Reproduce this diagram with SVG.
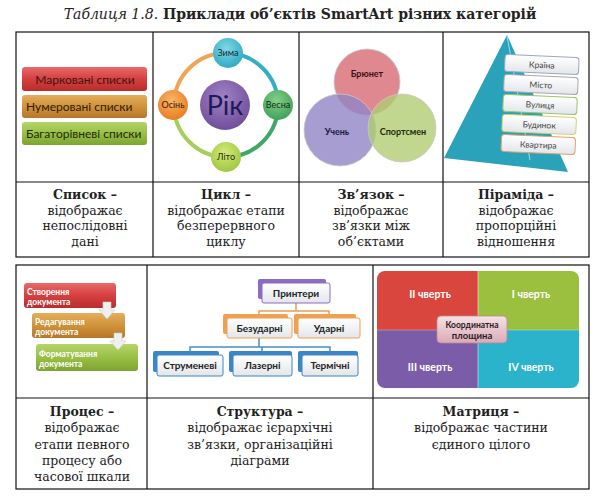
<svg xmlns="http://www.w3.org/2000/svg" width="595" height="497" viewBox="0 0 595 497">
<style>
.cap{font-family:"DejaVu Serif","Liberation Serif",serif;font-size:12.5px;fill:#222;text-anchor:middle}
.b{font-weight:bold}
.tl{fill:none;stroke:#111;stroke-width:1.2}
.sa{font-family:Lato,"Liberation Sans",sans-serif}
</style>
<defs>
<linearGradient id="gRed" x1="0" y1="0" x2="0" y2="1"><stop offset="0" stop-color="#e86a6a"/><stop offset="0.5" stop-color="#d63f3f"/><stop offset="1" stop-color="#b92c2c"/></linearGradient>
<linearGradient id="gOr" x1="0" y1="0" x2="0" y2="1"><stop offset="0" stop-color="#e4ae5c"/><stop offset="0.5" stop-color="#d0923a"/><stop offset="1" stop-color="#b67828"/></linearGradient>
<linearGradient id="gGr" x1="0" y1="0" x2="0" y2="1"><stop offset="0" stop-color="#b6d46a"/><stop offset="0.5" stop-color="#99bf45"/><stop offset="1" stop-color="#7ea432"/></linearGradient>
<linearGradient id="gCard" x1="0" y1="0" x2="0" y2="1"><stop offset="0" stop-color="#ffffff"/><stop offset="1" stop-color="#e3e6ea"/></linearGradient>
<linearGradient id="gPink" x1="0" y1="0" x2="0" y2="1"><stop offset="0" stop-color="#f6e2e6"/><stop offset="1" stop-color="#d9aab5"/></linearGradient>
<radialGradient id="gPurp" cx="0.45" cy="0.35" r="0.7"><stop offset="0" stop-color="#a183c4"/><stop offset="1" stop-color="#6d4a98"/></radialGradient>
<radialGradient id="gCy" cx="0.45" cy="0.35" r="0.7"><stop offset="0" stop-color="#7fd8e6"/><stop offset="1" stop-color="#2aa7c2"/></radialGradient>
<radialGradient id="gGn" cx="0.45" cy="0.35" r="0.7"><stop offset="0" stop-color="#86cf8a"/><stop offset="1" stop-color="#3a9e55"/></radialGradient>
<radialGradient id="gYg" cx="0.45" cy="0.35" r="0.7"><stop offset="0" stop-color="#d4ea7a"/><stop offset="1" stop-color="#9cc43a"/></radialGradient>
<radialGradient id="gOrC" cx="0.45" cy="0.35" r="0.7"><stop offset="0" stop-color="#f8b566"/><stop offset="1" stop-color="#e87a1e"/></radialGradient>
</defs>

<text x="300" y="19" style="font-family:'DejaVu Serif','Liberation Serif',serif;font-size:14px;fill:#222" text-anchor="middle"><tspan font-style="italic">Таблиця 1.8.</tspan><tspan font-weight="bold"> Приклади об’єктів SmartArt різних категорій</tspan></text>

<g id="table-lines">
<rect class="tl" x="16" y="32" width="573" height="225"/>
<line class="tl" x1="16" y1="182" x2="589" y2="182"/>
<line class="tl" x1="153" y1="32" x2="153" y2="257"/>
<line class="tl" x1="299" y1="32" x2="299" y2="257"/>
<line class="tl" x1="443" y1="32" x2="443" y2="257"/>
<rect class="tl" x="16" y="265" width="573" height="224"/>
<line class="tl" x1="16" y1="398" x2="589" y2="398"/>
<line class="tl" x1="147" y1="265" x2="147" y2="489"/>
<line class="tl" x1="373" y1="265" x2="373" y2="489"/>
</g>

<g id="list">
<rect x="22" y="67" width="125" height="24" rx="3" fill="url(#gRed)"/>
<rect x="22" y="95" width="125" height="23" rx="3" fill="url(#gOr)"/>
<rect x="22" y="122" width="125" height="23" rx="3" fill="url(#gGr)"/>
<text class="sa" x="85" y="83.5" font-size="12" fill="#3a1616" text-anchor="middle">Марковані списки</text>
<text class="sa" x="26" y="110.5" font-size="12" fill="#2e1a08">Нумеровані списки</text>
<text class="sa" x="26" y="137.5" font-size="12" fill="#1c2a0a">Багаторівневі списки</text>
</g>

<g id="cycle">
<g fill="none" stroke-width="4">
<path d="M226,53 A52,52 0 0 1 278,105" stroke="#34aec4"/>
<path d="M278,105 A52,52 0 0 1 226,157" stroke="#3ea866"/>
<path d="M226,157 A52,52 0 0 1 174,105" stroke="#a6cf5a"/>
<path d="M174,105 A52,52 0 0 1 226,53" stroke="#f0a456"/>
</g>
<circle cx="225" cy="105" r="25" fill="url(#gPurp)"/>
<text class="sa" x="225" y="115" font-size="27" fill="#1e1a5a" text-anchor="middle">Рік</text>
<circle cx="228" cy="53" r="15" fill="url(#gCy)"/>
<text class="sa" x="228" y="56" font-size="9" fill="#1a2a30" text-anchor="middle">Зима</text>
<circle cx="278" cy="105" r="15" fill="url(#gGn)"/>
<text class="sa" x="278" y="108" font-size="9" fill="#102a14" text-anchor="middle">Весна</text>
<circle cx="226" cy="157" r="15" fill="url(#gYg)"/>
<text class="sa" x="226" y="160" font-size="9" fill="#2a3010" text-anchor="middle">Літо</text>
<circle cx="173" cy="105" r="15" fill="url(#gOrC)"/>
<text class="sa" x="173" y="108" font-size="9" fill="#3a1a06" text-anchor="middle">Осінь</text>
</g>

<g id="venn">
<circle cx="367" cy="82" r="33" fill="#d9737c" fill-opacity="0.85" stroke="#c8c8c8" stroke-width="0.8"/>
<circle cx="340" cy="130" r="36" fill="#9184c6" fill-opacity="0.8" stroke="#c8c8c8" stroke-width="0.8"/>
<circle cx="402" cy="128" r="34" fill="#b2cc72" fill-opacity="0.8" stroke="#c8c8c8" stroke-width="0.8"/>
<text class="sa" x="367" y="77" font-size="9" font-weight="bold" fill="#3a1010" text-anchor="middle">Брюнет</text>
<text class="sa" x="337" y="135" font-size="9" font-weight="bold" fill="#1c1a3a" text-anchor="middle">Учень</text>
<text class="sa" x="403" y="135" font-size="9" font-weight="bold" fill="#1c2a0a" text-anchor="middle">Спортсмен</text>
</g>

<g id="pyramid">
<polygon points="507,35 444,158 568,172" fill="#2aa2ba"/>
<line x1="507" y1="36" x2="530" y2="160" stroke="#9fdbe6" stroke-width="1"/>
<g transform="rotate(2.5 540 105)">
<rect x="503" y="56" width="74" height="17" rx="3" fill="url(#gCard)" stroke="#9aa8c0"/>
<rect x="503" y="76" width="74" height="17" rx="3" fill="url(#gCard)" stroke="#a8a8a8"/>
<rect x="503" y="96" width="74" height="17" rx="3" fill="url(#gCard)" stroke="#9cc46a"/>
<rect x="503" y="116" width="74" height="17" rx="3" fill="url(#gCard)" stroke="#d6d070"/>
<rect x="503" y="136" width="74" height="17" rx="3" fill="url(#gCard)" stroke="#e0a070"/>
<g class="sa" font-size="8.5" fill="#444" text-anchor="middle">
<text x="540" y="68">Країна</text>
<text x="540" y="88">Місто</text>
<text x="540" y="108">Вулиця</text>
<text x="540" y="128">Будинок</text>
<text x="540" y="148">Квартира</text>
</g>
</g>
</g>

<g id="captions-top" class="cap">
<text x="85" y="199"><tspan class="b">Список –</tspan><tspan x="85" dy="15.5">відображає</tspan><tspan x="85" dy="15.5">непослідовні</tspan><tspan x="85" dy="15.5">дані</tspan></text>
<text x="226" y="199"><tspan class="b">Цикл –</tspan><tspan x="226" dy="15.5">відображає етапи</tspan><tspan x="226" dy="15.5">безперервного</tspan><tspan x="226" dy="15.5">циклу</tspan></text>
<text x="371" y="199"><tspan class="b">Зв’язок –</tspan><tspan x="371" dy="15.5">відображає</tspan><tspan x="371" dy="15.5">зв’язки між</tspan><tspan x="371" dy="15.5">об’єктами</tspan></text>
<text x="516" y="199"><tspan class="b">Піраміда –</tspan><tspan x="516" dy="15.5">відображає</tspan><tspan x="516" dy="15.5">пропорційні</tspan><tspan x="516" dy="15.5">відношення</tspan></text>
</g>

<g id="process">
<rect x="24" y="283" width="92" height="25" rx="3" fill="url(#gRed)"/>
<rect x="32" y="313" width="93" height="25" rx="3" fill="url(#gOr)"/>
<rect x="36" y="344" width="102" height="27" rx="3" fill="url(#gGr)"/>
<polygon points="103,302 111,302 111,310 115,310 107,319 99,310 103,310" fill="#eef0ee" stroke="#c8ccc8" stroke-width="0.6"/>
<polygon points="114,333 122,333 122,341 126,341 118,350 110,341 114,341" fill="#eef0ee" stroke="#c8ccc8" stroke-width="0.6"/>
<g class="sa" font-size="8.5" font-weight="bold" fill="#fff">
<text x="27" y="295">Створення</text><text x="27" y="305">документа</text>
<text x="35" y="325">Редагування</text><text x="35" y="335">документа</text>
<text x="39" y="357">Форматування</text><text x="39" y="367">документа</text>
</g>
</g>

<g id="structure">
<g fill="none" stroke-width="1.5">
<path d="M296,303 V311 M259,318 V311 H329 V318" stroke="#e8a050"/>
<path d="M259,338 V347 M190,355 V347 H330 V355 M262,347 V355" stroke="#4a8cc8"/>
</g>
<rect x="258" y="279" width="68" height="20" rx="2" fill="#8c6cc0"/>
<rect x="262" y="283" width="68" height="20" rx="2" fill="url(#gCard)" stroke="#8c6cc0"/>
<rect x="223" y="314" width="65" height="20" rx="2" fill="#f0a050"/>
<rect x="227" y="318" width="65" height="20" rx="2" fill="url(#gCard)" stroke="#f0a050"/>
<rect x="294" y="314" width="62" height="20" rx="2" fill="#f0a050"/>
<rect x="298" y="318" width="62" height="20" rx="2" fill="url(#gCard)" stroke="#f0a050"/>
<rect x="153" y="351" width="66" height="21" rx="2" fill="#3a86c8"/>
<rect x="157" y="355" width="66" height="21" rx="2" fill="url(#gCard)" stroke="#3a86c8"/>
<rect x="229" y="351" width="63" height="21" rx="2" fill="#3a86c8"/>
<rect x="233" y="355" width="59" height="21" rx="2" fill="url(#gCard)" stroke="#3a86c8"/>
<rect x="298" y="351" width="60" height="21" rx="2" fill="#3a86c8"/>
<rect x="302" y="355" width="56" height="21" rx="2" fill="url(#gCard)" stroke="#3a86c8"/>
<g class="sa" font-size="10" font-weight="bold" fill="#222" text-anchor="middle">
<text x="296" y="297">Принтери</text>
<text x="259.5" y="332">Безударні</text>
<text x="329" y="332">Ударні</text>
<text x="190" y="369">Струменеві</text>
<text x="262.5" y="369">Лазерні</text>
<text x="330" y="369">Термічні</text>
</g>
</g>

<g id="matrix">
<path d="M385,271 H478 V330 H377 V279 A8,8 0 0 1 385,271 Z" fill="#d8463e"/>
<path d="M478,271 H571 A8,8 0 0 1 579,279 V330 H478 Z" fill="#9bbf3f"/>
<path d="M377,330 H478 V388 H385 A8,8 0 0 1 377,380 Z" fill="#7a5ca8"/>
<path d="M478,330 H579 V380 A8,8 0 0 1 571,388 H478 Z" fill="#2ab3cb"/>
<line x1="478" y1="271" x2="478" y2="388" stroke="#fff" stroke-opacity="0.5"/>
<line x1="377" y1="330" x2="579" y2="330" stroke="#fff" stroke-opacity="0.3"/>
<rect x="437" y="316" width="70" height="27" rx="4" fill="url(#gPink)" stroke="#b88a98" stroke-width="0.8"/>
<g class="sa" font-weight="bold" text-anchor="middle">
<text x="472" y="327.5" font-size="8.5" fill="#2a1a1e">Координатна</text>
<text x="472" y="339" font-size="9.5" fill="#2a1a1e">площина</text>
<g font-size="10.5" fill="#fff">
<text x="430" y="298">ІІ чверть</text>
<text x="531" y="298">І чверть</text>
<text x="430" y="371">ІІІ чверть</text>
<text x="531" y="371">ІV чверть</text>
</g>
</g>
</g>

<g id="captions-bottom" class="cap">
<text x="82" y="416"><tspan class="b">Процес –</tspan><tspan x="82" dy="16.3">відображає</tspan><tspan x="82" dy="16.3">етапи певного</tspan><tspan x="82" dy="16.3">процесу або</tspan><tspan x="82" dy="16.3">часової шкали</tspan></text>
<text x="260" y="416"><tspan class="b">Структура –</tspan><tspan x="260" dy="16.3">відображає ієрархічні</tspan><tspan x="260" dy="16.3">зв’язки, організаційні</tspan><tspan x="260" dy="16.3">діаграми</tspan></text>
<text x="481" y="416"><tspan class="b">Матриця –</tspan><tspan x="481" dy="16.3">відображає частини</tspan><tspan x="481" dy="16.3">єдиного цілого</tspan></text>
</g>
</svg>
